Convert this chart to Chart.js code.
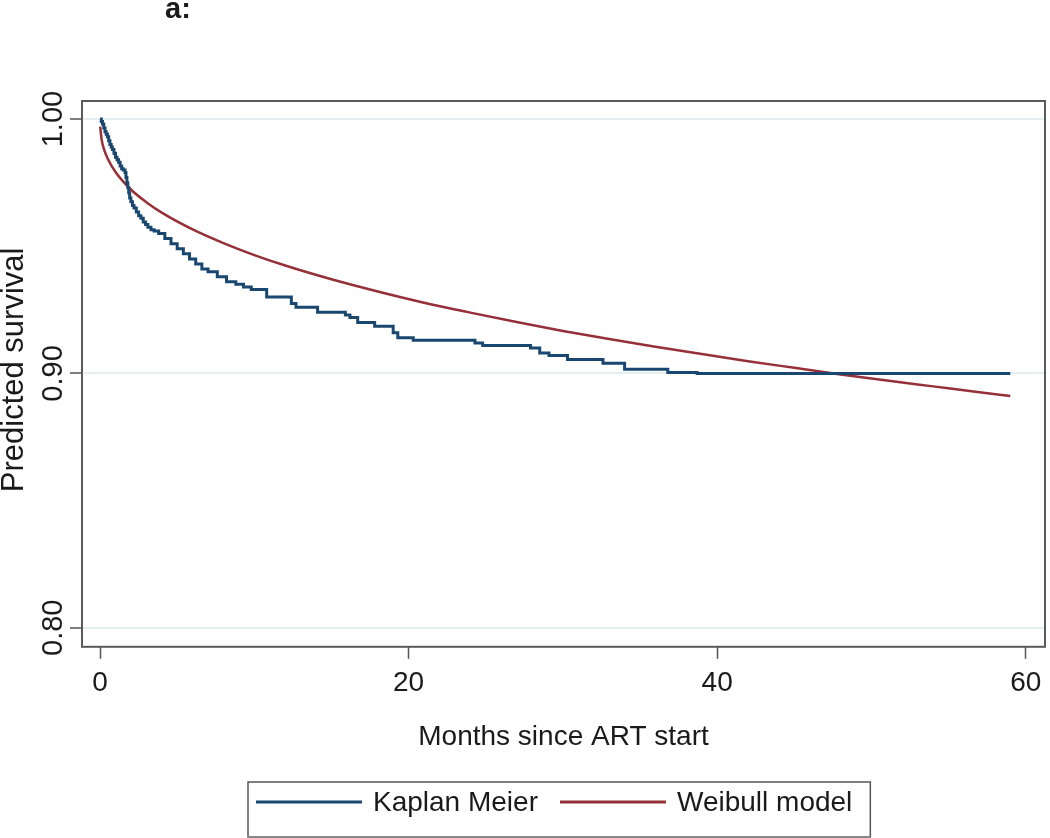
<!DOCTYPE html>
<html>
<head>
<meta charset="utf-8">
<script src="https://cdn.jsdelivr.net/npm/chart.js@4"></script>
<style>
    html, body { margin: 0; padding: 0; background: #fff; }
    #wrap { width: 1050px; height: 838px; }
</style>
</head>
<body>
<div id="wrap"><canvas id="survChart" width="1050" height="838"></canvas></div>
<script>
// Kaplan Meier steps (month, survival after the drop)
const kmMonths = [0, 0.08, 0.16, 0.24, 0.32, 0.4, 0.48, 0.56, 0.64, 0.72, 0.8, 0.9, 1.0, 1.1, 1.2, 1.3,
    1.4, 1.5, 1.62, 1.68, 1.74, 1.8, 1.86, 1.92, 2.0, 2.1, 2.2, 2.35, 2.5, 2.65, 2.8, 2.95, 3.1, 3.3,
    3.5, 3.8, 4.2, 4.6, 5.0, 5.4, 5.8, 6.2, 6.6, 7.0, 7.6, 8.2, 8.8, 9.3, 9.8, 10.8, 12.4, 12.7,
    14.1, 15.9, 16.2, 16.7, 17.8, 19.0, 19.3, 20.3, 24.3, 24.8, 27.9, 28.5, 29.1, 30.3, 32.6, 34.0,
    36.8, 38.7, 59.0];
const kmSurv = [1.000, 0.999, 0.998, 0.9965, 0.995, 0.994, 0.993, 0.9915, 0.990, 0.989, 0.988, 0.9865,
    0.985, 0.984, 0.983, 0.9815, 0.9805, 0.980, 0.979, 0.977, 0.975, 0.973, 0.971, 0.969, 0.9675,
    0.966, 0.965, 0.9635, 0.962, 0.961, 0.9595, 0.9585, 0.9575, 0.9565, 0.956, 0.955, 0.953, 0.951,
    0.949, 0.947, 0.945, 0.943, 0.941, 0.940, 0.938, 0.936, 0.935, 0.934, 0.933, 0.930, 0.9275,
    0.926, 0.924, 0.923, 0.922, 0.920, 0.9185, 0.916, 0.914, 0.913, 0.912, 0.911, 0.910, 0.908,
    0.907, 0.9055, 0.904, 0.9016, 0.9004, 0.9000, 0.9000];

// Weibull model curve
const wbMonths = [0.01, 0.1, 0.3, 0.5, 1, 2, 3, 4, 6, 8, 10, 12, 15, 18, 21, 24, 27, 30, 33, 36, 39, 42,
    45, 48, 51, 54, 57, 59];
const wbSurv = [0.997, 0.992, 0.9874, 0.9844, 0.9792, 0.9723, 0.9673, 0.9632, 0.9566, 0.9512, 0.9465,
    0.9424, 0.9370, 0.9322, 0.9278, 0.9239, 0.9202, 0.9167, 0.9135, 0.9105, 0.9076, 0.9048, 0.9022,
    0.8996, 0.8972, 0.8949, 0.8926, 0.8911];

const xTicks = [0, 20, 40, 60];
const yTicks = [0.80, 0.90, 1.00];
const yTickLabels = ["0.80", "0.90", "1.00"];
const seriesNames = ["Kaplan Meier", "Weibull model"];

const FONT = "'Liberation Sans', Arial, sans-serif";
const toPoints = (xs, ys) => xs.map((x, i) => ({ x: x, y: ys[i] }));

// 🔹 extra drawing: frame, y labels, titles, legend box
const decor = {
    id: "decor",
    afterDraw(chart) {
        const { ctx, chartArea: a, scales } = chart;
        ctx.save();

        // frame round the plot
        ctx.strokeStyle = "#5a5a5a";
        ctx.lineWidth = 2;
        ctx.strokeRect(a.left, a.top, a.right - a.left, a.bottom - a.top);

        // rotated y tick labels
        ctx.fillStyle = "#1a1a1a";
        ctx.font = "29px " + FONT;
        ctx.textAlign = "center";
        ctx.textBaseline = "middle";
        yTicks.forEach((v, i) => {
            ctx.save();
            ctx.translate(54, scales.y.getPixelForValue(v));
            ctx.rotate(-Math.PI / 2);
            ctx.fillText(yTickLabels[i], 0, 0);
            ctx.restore();
        });

        // y title
        ctx.save();
        ctx.font = "31px " + FONT;
        ctx.translate(14, (a.top + a.bottom) / 2 - 4);
        ctx.rotate(-Math.PI / 2);
        ctx.fillText("Predicted survival", 0, 0);
        ctx.restore();

        // panel title
        ctx.font = "bold 29px " + FONT;
        ctx.textAlign = "left";
        ctx.textBaseline = "alphabetic";
        ctx.fillText("a:", 165, 18);

        // legend
        const sets = chart.data.datasets;
        const lineLen = 106;
        ctx.font = "28px " + FONT;
        const widths = sets.map(d => ctx.measureText(d.label).width);
        const total = sets.length * (lineLen + 11) + widths.reduce((s, w) => s + w, 0) + 22 * (sets.length - 1);
        const boxL = 248, boxT = 782, boxW = total + 26, boxH = 55;
        ctx.strokeStyle = "#555";
        ctx.lineWidth = 1.5;
        ctx.strokeRect(boxL, boxT, boxW, boxH);
        ctx.fillStyle = "#888";
        ctx.fillRect(boxL, boxT + boxH - 1, boxW, 2);

        let x = boxL + 8;
        const midY = boxT + 20;
        ctx.textBaseline = "middle";
        sets.forEach((d, i) => {
            ctx.strokeStyle = d.borderColor;
            ctx.lineWidth = 3;
            ctx.beginPath();
            ctx.moveTo(x, midY);
            ctx.lineTo(x + lineLen, midY);
            ctx.stroke();
            x += lineLen + 11;
            ctx.fillStyle = "#1a1a1a";
            ctx.fillText(d.label, x, midY + 1);
            x += widths[i] + 22;
        });

        ctx.restore();
    }
};

const ctx = document.getElementById("survChart").getContext("2d");
new Chart(ctx, {
    type: "line",
    data: {
        datasets: [
            {
                label: seriesNames[0],
                data: toPoints(kmMonths, kmSurv),
                borderColor: "#1a476f",
                borderWidth: 3,
                stepped: "before",
                pointRadius: 0,
                fill: false
            },
            {
                label: seriesNames[1],
                data: toPoints(wbMonths, wbSurv),
                borderColor: "#963038",
                borderWidth: 2.5,
                cubicInterpolationMode: "monotone",
                pointRadius: 0,
                fill: false
            }
        ]
    },
    options: {
        responsive: false,
        animation: false,
        devicePixelRatio: 1,
        layout: { padding: { left: 70, right: 5, top: 101, bottom: 84 } },
        plugins: {
            legend: { display: false },
            tooltip: { enabled: false }
        },
        scales: {
            x: {
                type: "linear",
                min: -1.17,
                max: 61.25,
                afterBuildTicks: s => { s.ticks = xTicks.map(v => ({ value: v })); },
                ticks: {
                    color: "#1a1a1a",
                    padding: 8,
                    maxRotation: 0,
                    font: { family: FONT, size: 28 }
                },
                grid: { drawOnChartArea: false, tickLength: 12, tickColor: "#555", tickWidth: 1.5 },
                border: { display: false },
                title: {
                    display: true,
                    text: "Months since ART start",
                    color: "#1a1a1a",
                    font: { family: FONT, size: 28 },
                    padding: { top: 12, bottom: 0 }
                }
            },
            y: {
                min: 0.79252,
                max: 1.00709,
                afterBuildTicks: s => { s.ticks = yTicks.map(v => ({ value: v })); },
                ticks: { display: false },
                grid: { color: "#e4edf0", lineWidth: 2, tickLength: 12, tickColor: "#555", tickWidth: 1.5 },
                border: { display: false }
            }
        }
    },
    plugins: [decor]
});
</script>
</body>
</html>
